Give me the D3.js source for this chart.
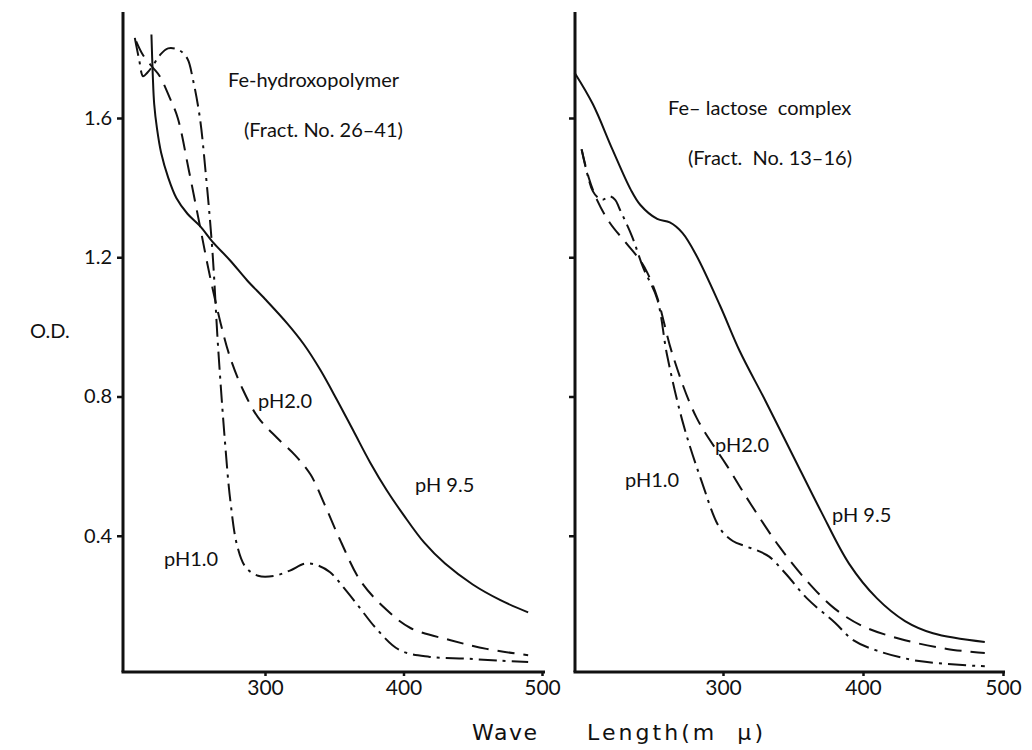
<!DOCTYPE html>
<html>
<head>
<meta charset="utf-8">
<script src="https://cdn.jsdelivr.net/npm/d3@7"></script>
<style>
  body { margin: 0; background: #fff; }
  svg { font-family: Lato, "DejaVu Sans", sans-serif; }
  .lbl { font-size: 20px; fill: #111; }
</style>
</head>
<body>
<svg id="chart" width="1032" height="750"></svg>
<script>
// Absorption spectra, wavelength (m mu) vs O.D.
var xTicks = [300, 400, 500];
var yTicks = [0.4, 0.8, 1.2, 1.6];

// Left panel - Fe-hydroxopolymer (Fract. No. 26-41)
var hydroxoPH95 = [[218,1.84],[219,1.72],[220,1.64],[222,1.57],[225,1.50],[230,1.43],[236,1.37],[244,1.325],
  [253,1.29],[262,1.245],[275,1.19],[287,1.134],[300,1.08],[316,1.01],[328,0.95],[340,0.876],[352,0.79],
  [364,0.70],[376,0.61],[388,0.53],[400,0.46],[415,0.38],[430,0.32],[450,0.26],[470,0.215],[490,0.18]];
var hydroxoPH20 = [[207,1.82],[212,1.78],[219,1.745],[224,1.72],[231,1.66],[237,1.60],[245,1.45],[253,1.29],
  [260,1.15],[268,1.01],[275,0.91],[284,0.82],[295,0.74],[309,0.68],[322,0.63],[333,0.575],[343,0.49],
  [354,0.39],[369,0.27],[387,0.19],[405,0.135],[434,0.10],[460,0.075],[490,0.057]];
var hydroxoPH10 = [[206,1.83],[209,1.77],[212,1.72],[215,1.73],[219,1.75],[224,1.78],[230,1.80],[238,1.795],
  [244,1.77],[248,1.71],[253,1.60],[257,1.45],[262,1.22],[266,0.95],[271,0.675],[275,0.50],[280,0.37],
  [286,0.31],[295,0.285],[307,0.285],[318,0.30],[329,0.32],[338,0.315],[347,0.295],[358,0.245],[369,0.19],
  [380,0.135],[397,0.072],[419,0.052],[445,0.047],[470,0.041],[490,0.037]];

// Right panel - Fe-lactose complex (Fract. No. 13-16)
var lactosePH95 = [[194,1.73],[207,1.64],[221,1.51],[234,1.395],[241,1.35],[253,1.31],[262,1.30],[271,1.27],
  [281,1.205],[298,1.06],[312,0.93],[330,0.79],[350,0.63],[370,0.47],[390,0.32],[410,0.22],[430,0.155],
  [450,0.12],[487,0.095]];
var lactosePH20 = [[199,1.51],[204,1.43],[210,1.365],[219,1.30],[231,1.24],[241,1.19],[246,1.155],[253,1.085],
  [264,0.92],[281,0.74],[303,0.60],[320,0.49],[340,0.37],[360,0.27],[380,0.19],[400,0.14],[430,0.10],
  [460,0.075],[487,0.063]];
var lactosePH10 = [[199,1.51],[203,1.44],[207,1.39],[211,1.37],[214,1.365],[219,1.375],[223,1.365],[226,1.34],
  [235,1.26],[243,1.17],[253,1.08],[260,0.92],[271,0.73],[284,0.565],[298,0.42],[307,0.385],[316,0.37],
  [326,0.355],[333,0.34],[345,0.29],[360,0.22],[380,0.15],[393,0.10],[410,0.07],[440,0.04],[487,0.025]];

var svg = d3.select("#chart");

var yScale = d3.scaleLinear()
    .domain([0, 1.6])
    .range([675, 118]);

var panels = [
  {x0: 123, xEnd: 545, range: [126.5, 542], labels: true,
   series: [hydroxoPH95, hydroxoPH20, hydroxoPH10],
   title: ["Fe-hydroxopolymer", "(Fract. No. 26\u201341)"], titlePos: [[228, 87], [244, 137]],
   phLabels: [["pH 9.5", 415, 492], ["pH2.0", 258, 408], ["pH1.0", 164, 566]]},
  {x0: 575, xEnd: 1005, range: [583, 1003], labels: false,
   series: [lactosePH95, lactosePH20, lactosePH10],
   title: ["Fe\u2013 lactose  complex", "(Fract.  No. 13\u201316)"], titlePos: [[668, 115], [688, 165]],
   phLabels: [["pH 9.5", 832, 522], ["pH2.0", 715, 452], ["pH1.0", 625, 487]]}
];

var styles = [
  {dash: null},
  {dash: "17,9"},
  {dash: "18,6,3,6"}
];

panels.forEach(function(p) {
  var xScale = d3.scaleLinear()
      .domain([200, 500])
      .range(p.range);

  var line = d3.line()
      .x((d) => xScale(d[0]))
      .y((d) => yScale(d[1]))
      .curve(d3.curveCatmullRom.alpha(0.5));

  svg.selectAll(null)
      .data(p.series)
      .enter()
      .append("path")
      .attr("d", line)
      .attr("fill", "none")
      .attr("stroke", "#111")
      .attr("stroke-width", 2)
      .attr("stroke-dasharray", (d, i) => styles[i].dash);

  // axes lines
  svg.append("line")
      .attr("x1", p.x0).attr("x2", p.x0)
      .attr("y1", 12).attr("y2", 672)
      .attr("stroke", "#111").attr("stroke-width", 3);
  svg.append("line")
      .attr("x1", p.x0 - 1.5).attr("x2", p.xEnd)
      .attr("y1", 672).attr("y2", 672)
      .attr("stroke", "#111").attr("stroke-width", 3);

  var xAxis = d3.axisBottom(xScale)
      .tickValues(xTicks)
      .tickSize(4)
      .tickPadding(4)
      .tickFormat(d3.format("d"));

  var gx = svg.append("g")
     .attr("transform", "translate(0,672)")
     .call(xAxis);
  gx.select(".domain").remove();
  gx.selectAll("line").attr("stroke", "#111").attr("stroke-width", 2.5);
  gx.selectAll("text").attr("font-size", 21).attr("fill", "#111")
     .attr("font-family", "Lato, 'DejaVu Sans', sans-serif");

  var yAxis = d3.axisLeft(yScale)
      .tickValues(yTicks)
      .tickSize(6)
      .tickPadding(5)
      .tickFormat(p.labels ? d3.format(".1f") : "");

  var gy = svg.append("g")
     .attr("transform", "translate(" + p.x0 + ",0)")
     .call(yAxis);
  gy.select(".domain").remove();
  gy.selectAll("line").attr("stroke", "#111").attr("stroke-width", 2.5);
  gy.selectAll("text").attr("font-size", 20).attr("fill", "#111")
     .attr("font-family", "Lato, 'DejaVu Sans', sans-serif");

  svg.selectAll(null)
      .data(p.title)
      .enter()
      .append("text")
      .attr("class", "lbl")
      .attr("x", (d, i) => p.titlePos[i][0])
      .attr("y", (d, i) => p.titlePos[i][1])
      .style("white-space", "pre")
      .text((d) => d);

  svg.selectAll(null)
      .data(p.phLabels)
      .enter()
      .append("text")
      .attr("class", "lbl")
      .attr("x", (d) => d[1])
      .attr("y", (d) => d[2])
      .text((d) => d[0]);
});

svg.append("text")
    .attr("class", "lbl")
    .attr("x", 30)
    .attr("y", 338)
    .text("O.D.");

// x axis title, spaced out as in the original lettering
svg.append("text")
    .attr("x", 472)
    .attr("y", 740)
    .style("font-family", "'DejaVu Sans', sans-serif")
    .style("font-size", "22px")
    .attr("fill", "#111")
    .attr("textLength", 65)
    .attr("lengthAdjust", "spacing")
    .text("Wave");

svg.append("text")
    .attr("x", 587)
    .attr("y", 740)
    .style("font-family", "'DejaVu Sans', sans-serif")
    .style("font-size", "22px")
    .style("white-space", "pre")
    .attr("fill", "#111")
    .attr("textLength", 176)
    .attr("lengthAdjust", "spacing")
    .text("Length(m  \u03bc)");
</script>
</body>
</html>
